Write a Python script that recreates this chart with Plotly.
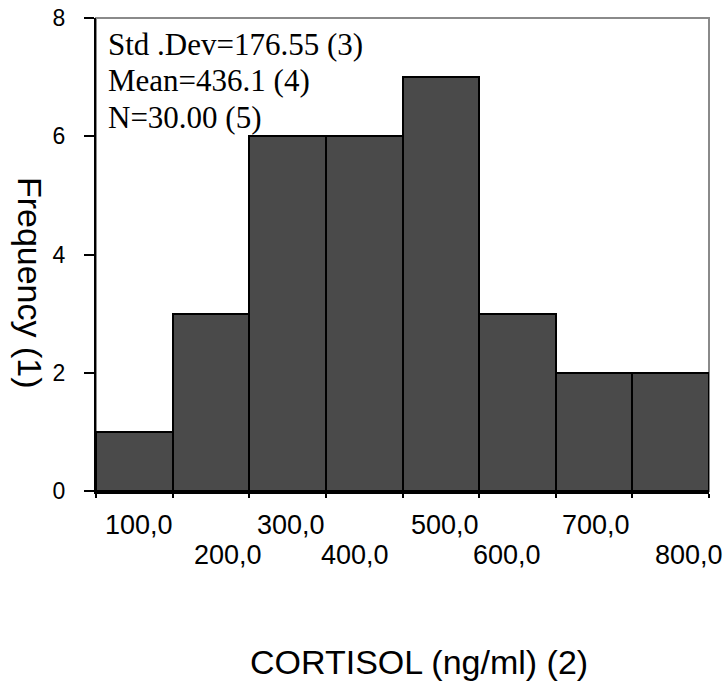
import plotly.graph_objects as go

bin_centers = [100, 200, 300, 400, 500, 600, 700, 800]
frequencies = [1, 3, 6, 6, 7, 3, 2, 2]
tick_labels = ["100,0", "200,0", "300,0", "400,0", "500,0", "600,0", "700,0", "800,0"]
bin_edges = [50, 150, 250, 350, 450, 550, 650, 750, 850]
y_ticks = [0, 2, 4, 6, 8]
stats_lines = ["Std .Dev=176.55 (3)", "Mean=436.1 (4)", "N=30.00 (5)"]
x_title = "CORTISOL (ng/ml) (2)"
y_title = "Frequency (1)"

SANS = "Liberation Sans, Arial, sans-serif"
SERIF = "Liberation Serif, Times New Roman, serif"

fig = go.Figure()
fig.add_trace(go.Bar(
    x=bin_centers, y=frequencies, width=100,
    marker=dict(color="#4a4a4a", line=dict(color="black", width=2)),
    hoverinfo="x+y",
))

# top / right gray frame
fig.add_shape(type="rect", xref="paper", yref="paper", x0=0, x1=1, y0=0, y1=1,
              line=dict(color="#8a8a8a", width=2), layer="below")

annotations = []
# staggered x tick labels
label_shift = {100: 5, 200: 17, 300: 3, 400: -9, 500: 4, 600: -10, 700: 2, 800: 18}
for i, (c, lab) in enumerate(zip(bin_centers, tick_labels)):
    row = i % 2
    annotations.append(dict(
        x=c, xref="x", y=0, yref="paper", text=lab, showarrow=False,
        xanchor="center", yanchor="middle",
        yshift=-34 if row == 0 else -64, xshift=label_shift[c],
        font=dict(family=SANS, size=27, color="black"),
    ))

annotations.append(dict(
    x=0.527, xref="paper", y=0, yref="paper", text=x_title, showarrow=False,
    xanchor="center", yanchor="middle", yshift=-171,
    font=dict(family=SANS, size=34, color="black"),
))

annotations.append(dict(
    x=0, xref="paper", y=0.44, yref="paper", text=y_title, showarrow=False,
    textangle=90, xshift=-66, xanchor="center", yanchor="middle",
    font=dict(family=SANS, size=34, color="black"),
))

for k, line in enumerate(stats_lines):
    annotations.append(dict(
        x=0, xref="paper", y=1, yref="paper", text=line, showarrow=False,
        xanchor="left", yanchor="middle", xshift=10, yshift=-26 - 36.5 * k,
        font=dict(family=SERIF, size=31, color="black"),
    ))

fig.update_layout(
    width=724, height=686,
    margin=dict(l=96, r=15, t=18, b=195, autoexpand=False),
    plot_bgcolor="white", paper_bgcolor="white",
    showlegend=False,
    bargap=0,
    annotations=annotations,
    xaxis=dict(
        range=[50, 850], tickvals=bin_edges, showticklabels=False,
        ticks="outside", ticklen=4, tickwidth=2, tickcolor="black",
        showline=True, linecolor="black", linewidth=3,
        showgrid=False, zeroline=False, automargin=False,
    ),
    yaxis=dict(
        range=[0, 8], tickvals=y_ticks, ticktext=[str(v) for v in y_ticks],
        ticks="outside", ticklen=10, tickwidth=2, tickcolor="black",
        showline=True, linecolor="black", linewidth=2,
        showgrid=False, zeroline=False, automargin=False,
        ticklabelstandoff=14, ticklabeloverflow="allow",
        tickfont=dict(family=SANS, size=23, color="black"),
    ),
)

fig.write_html(
    "out.html",
    config={"displayModeBar": False},
    post_script="document.body.style.margin='0';document.body.style.overflow='hidden';",
)
